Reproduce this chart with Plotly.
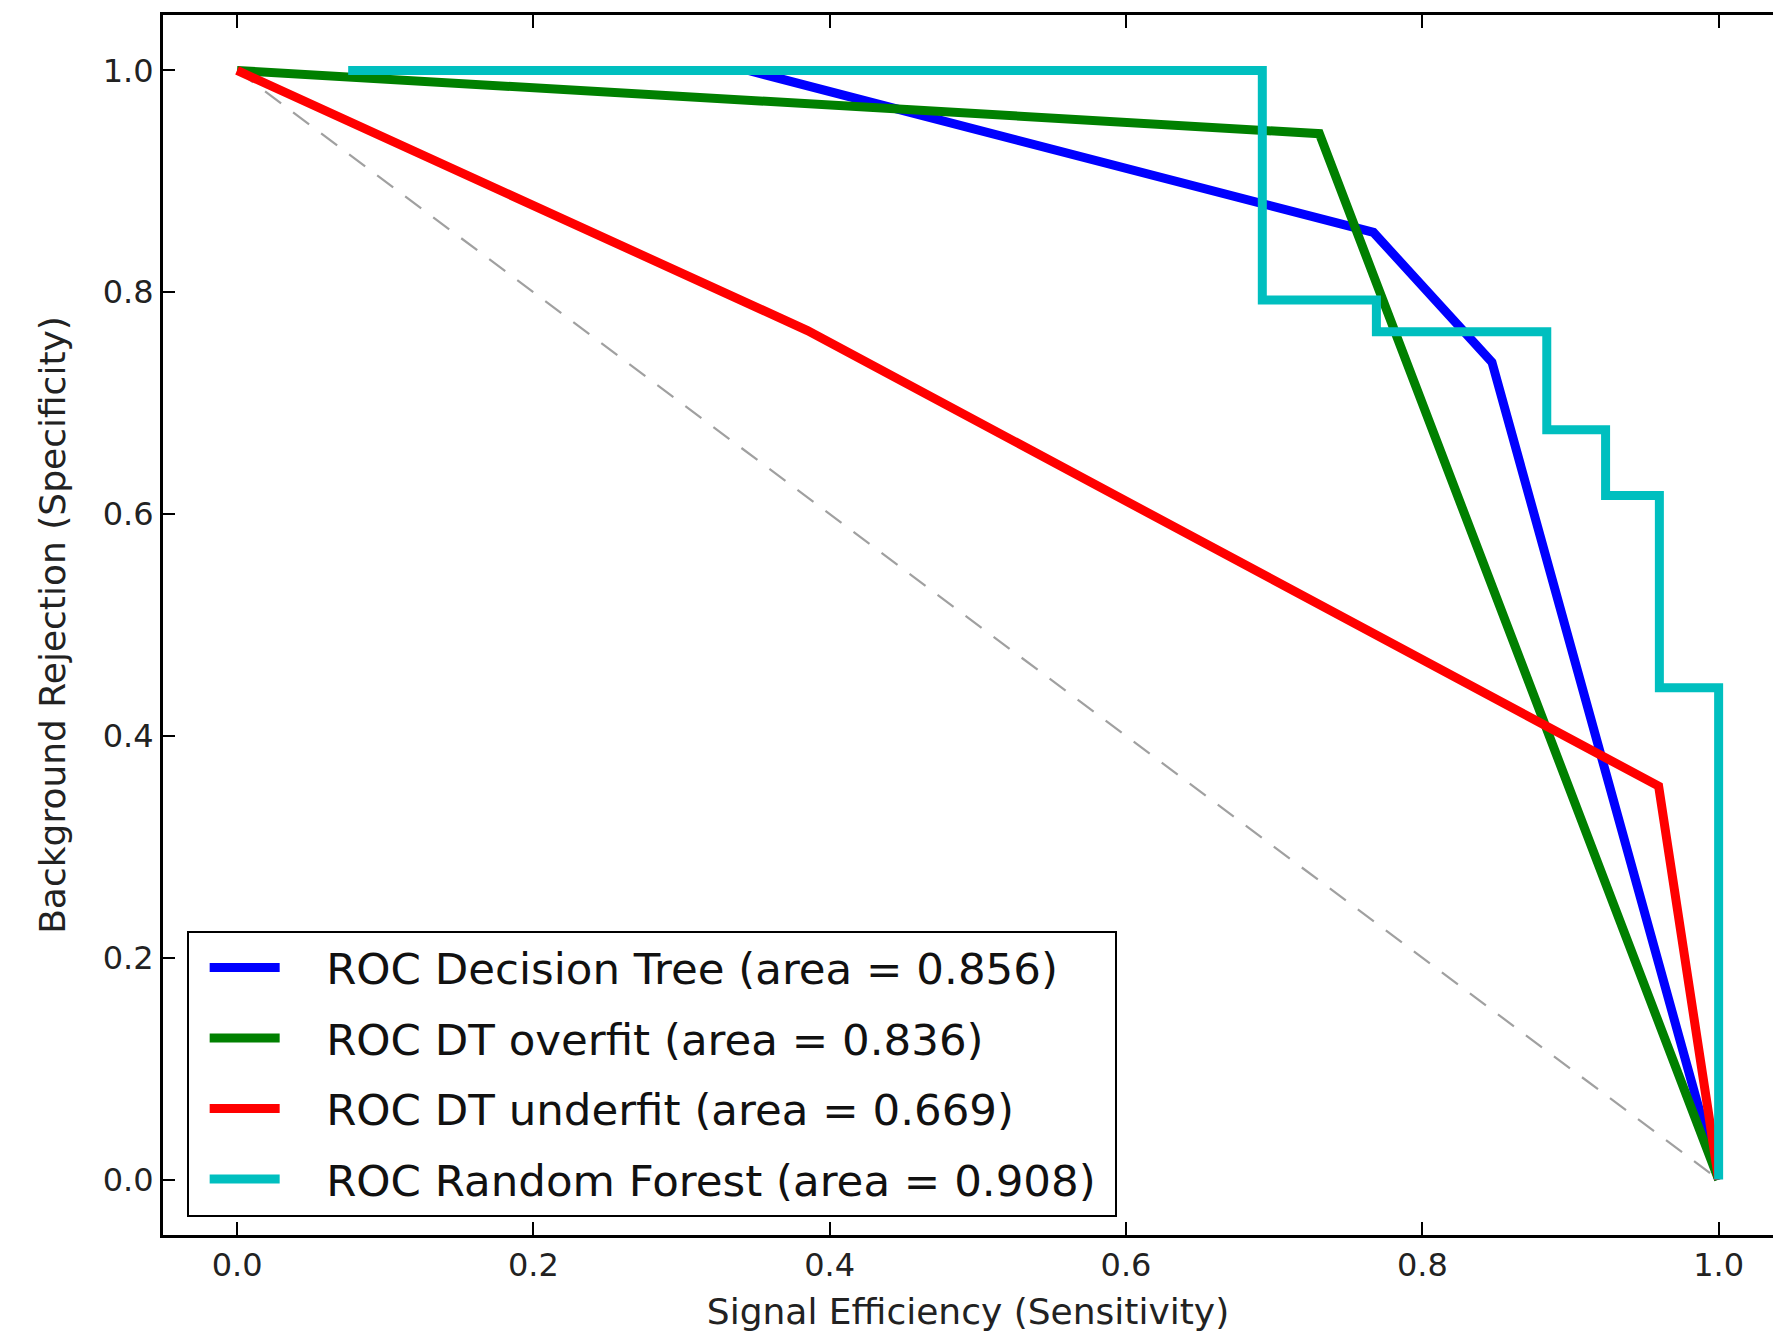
import plotly.graph_objects as go

# ---- data (x = signal efficiency, y = background rejection) ----
dt_x = [0.345, 0.767, 0.847, 1.0]
dt_y = [1.0, 0.854, 0.737, 0.0]

over_x = [0.0, 0.7305, 1.0]
over_y = [1.0, 0.943, 0.0]

under_x = [0.0, 0.385, 0.9595, 1.0]
under_y = [1.0, 0.7655, 0.3547, 0.0]

rf_x = [0.075, 0.692, 0.692, 0.769, 0.769, 0.884, 0.884, 0.9237, 0.9237, 0.960, 0.960, 1.0, 1.0]
rf_y = [1.0, 1.0, 0.793, 0.793, 0.7645, 0.7645, 0.676, 0.676, 0.6167, 0.6167, 0.4434, 0.4434, 0.0]

diag_x = [0.0, 1.0]
diag_y = [1.0, 0.0]

names = [
    "ROC Decision Tree (area = 0.856)",
    "ROC DT overfit (area = 0.836)",
    "ROC DT underfit (area = 0.669)",
    "ROC Random Forest (area = 0.908)",
]
colors = ["#0000ff", "#008000", "#ff0000", "#00bfbf"]
xticks = [0.0, 0.2, 0.4, 0.6, 0.8, 1.0]
yticks = [0.0, 0.2, 0.4, 0.6, 0.8, 1.0]

FONT = "DejaVu Sans"
LW = 9
PAD = "\u00a0\u00a0\u00a0"
TAIL = "\u00a0"

fig = go.Figure()
fig.add_trace(go.Scatter(x=diag_x, y=diag_y, mode="lines", showlegend=False,
                         line=dict(color="#a0a0a0", width=2.2, dash="20px,15px")))
series = [(dt_x, dt_y), (over_x, over_y), (under_x, under_y), (rf_x, rf_y)]
for i, ((xs, ys), nm, c) in enumerate(zip(series, names, colors)):
    fig.add_trace(go.Scatter(x=xs, y=ys, mode="lines", name=PAD + nm + TAIL, legendgroup=f"g{i}",
                             line=dict(color=c, width=LW)))

fig.update_layout(
    width=1773, height=1333,
    margin=dict(l=163, r=0, t=15, b=98),
    paper_bgcolor="white", plot_bgcolor="white",
    font=dict(family=FONT, color="black"),
    legend=dict(
        x=0.0147, y=0.2495, xanchor="left", yanchor="top",
        bgcolor="white", bordercolor="black", borderwidth=2,
        font=dict(family=FONT, size=43.5, color="#111"),
        tracegroupgap=11, itemwidth=70, indentation=16,
    ),
)
fig.update_xaxes(
    range=[-0.05, 1.0367], tickvals=xticks, tickformat=".1f",
    ticks="inside", ticklen=13, tickwidth=1.5, tickcolor="black",
    showline=True, linecolor="black", linewidth=3, mirror="ticks",
    showgrid=False, zeroline=False,
    tickfont=dict(family=FONT, size=32, color="#222"),
    title=dict(text="Signal Efficiency (Sensitivity)", font=dict(family=FONT, size=36, color="#222"),
               standoff=16),
)
fig.update_yaxes(
    range=[-0.05, 1.05], tickvals=yticks, tickformat=".1f",
    ticks="inside", ticklen=12, tickwidth=1.5, tickcolor="black",
    showline=True, linecolor="black", linewidth=3, mirror=False,
    showgrid=False, zeroline=False,
    tickfont=dict(family=FONT, size=32, color="#222"),
    title=dict(text="Background Rejection (Specificity)", font=dict(family=FONT, size=36, color="#222"),
               standoff=27),
)

fig.write_html("out.html")
